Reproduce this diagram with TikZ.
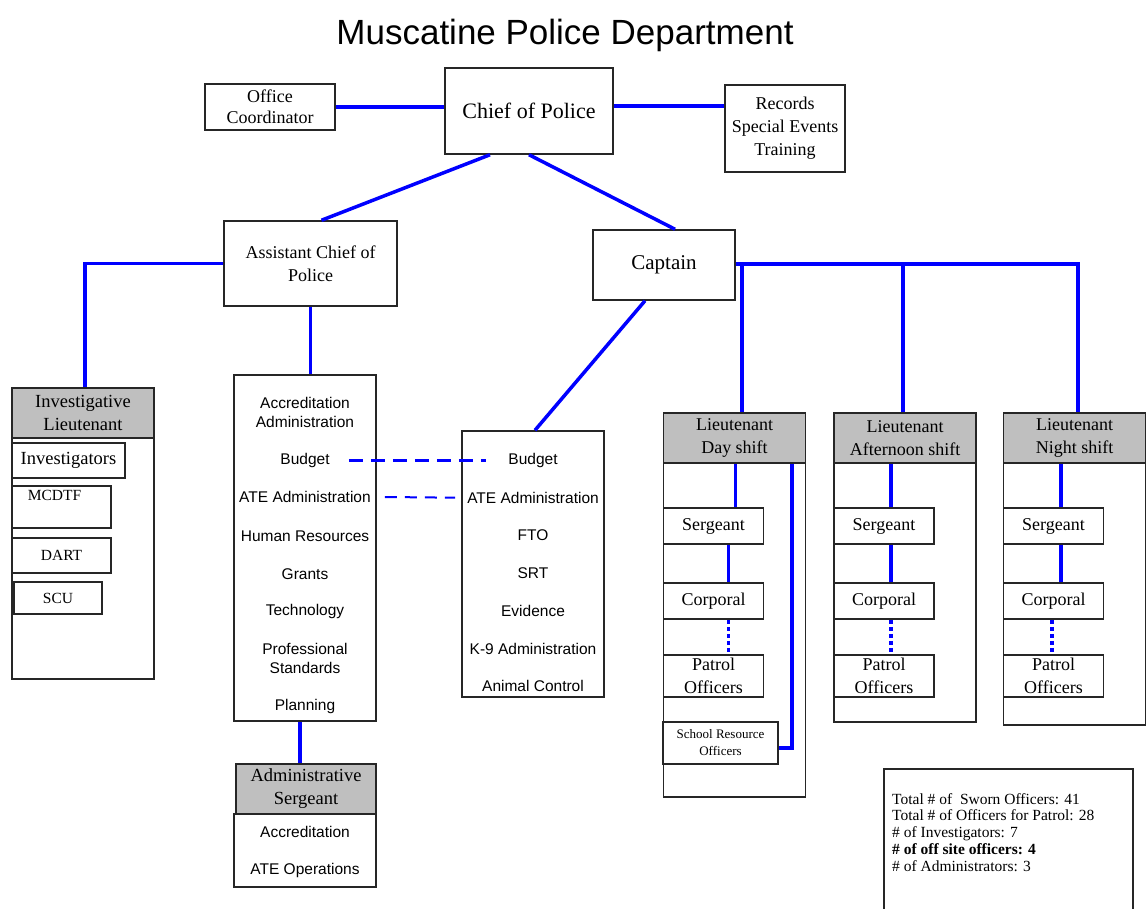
\documentclass[tikz,border=0pt]{standalone}
\usepackage{fontspec}
\setmainfont{Liberation Serif}
\setsansfont{Liberation Sans}
\usetikzlibrary{calc}

\begin{document}
\begin{tikzpicture}[x=1pt,y=-1pt,
		box/.style={draw=black!85, line width=1.5pt, fill=white, inner sep=0pt, align=center,
			font=\fontsize{18}{23}\selectfont},
		head/.style={box, fill=black!25},
		item/.style={font=\sffamily\fontsize{15.5}{19}\selectfont, align=center, inner sep=0pt},
		link/.style={draw=blue, line width=3.5pt},
		dots/.style={link, dash pattern=on 4pt off 3pt},
	]
	\useasboundingbox (0,0) rectangle (1146,909);
	\clip (0,0) rectangle (1146,909);
	\node[font=\sffamily\fontsize{35}{40}\selectfont, anchor=base] (title) at (565,45) {Muscatine Police Department};
	% top of the chart
	\node[box, minimum width=168, minimum height=86, font=\fontsize{22}{26}\selectfont] (chief) at (529,111) {Chief of Police};
	\node[box, minimum width=130, minimum height=46, font=\fontsize{18}{21}\selectfont] (office) at (270,107) {Office\\Coordinator};
	\node[box, minimum width=120, minimum height=87] (records) at (785,128.5) {Records\\Special Events\\Training};
	\node[box, minimum width=173, minimum height=85] (assist) at (310.5,263.5) {Assistant Chief of\\Police};
	\node[box, minimum width=142, minimum height=70, font=\fontsize{21}{25}\selectfont] (captain) at (664,265) {Captain};
	% investigations
	\node[box, minimum width=142, minimum height=241] (invbody) at (83,558.5) {};
	\node[head, minimum width=142, minimum height=50, font=\fontsize{18.5}{23}\selectfont] (invhead) at (83,413) {Investigative\\Lieutenant};
	\node[box, minimum width=113, minimum height=35, font=\fontsize{18.5}{22}\selectfont] (invest) at (68.5,460.5) {Investigators};
	\node[box, minimum width=99, minimum height=42,
		label={[anchor=north, xshift=-7pt, inner sep=5pt, font=\fontsize{15.5}{18}\selectfont]north:MCDTF}] (mcdtf) at (61.5,507) {};
	\node[box, minimum width=99, minimum height=35, font=\fontsize{15.5}{18}\selectfont] (dart) at (61.5,555.5) {DART};
	\node[box, minimum width=88, minimum height=32, font=\fontsize{15.5}{18}\selectfont] (scu) at (58,598) {SCU};
	% administration
	\node[box, minimum width=142, minimum height=346] (admlist) at (305,548) {};
	\foreach \y/\t [count=\i] in {412.5/{Accreditation\\Administration}, 460/Budget, 497/ATE Administration,
		536/Human Resources, 574/Grants, 611/Technology, 658.5/{Professional\\Standards}, 706/Planning}
		\node[item] (adm\i) at (305,\y) {\t};
	\node[box, minimum width=142, minimum height=73] (admbody) at (305,850.5) {};
	\node[head, minimum width=140, minimum height=50, font=\fontsize{18.5}{23}\selectfont] (admhead) at (306,789) {Administrative\\Sergeant};
	\node[item] (admacc) at (305,832) {Accreditation};
	\node[item] (admate) at (305,870) {ATE Operations};
	% captain's duties
	\node[box, minimum width=142, minimum height=266] (caplist) at (533,564) {};
	\foreach \t [count=\i] in {Budget, ATE Administration, FTO, SRT, Evidence, K-9 Administration, Animal Control}
		\node[item] (cap\i) at (533,{422.3+37.7*\i}) {\t};
	% shifts
	\foreach \n/\x/\h/\sh in {day/734.5/334/Day shift, aft/905/259/Afternoon shift, ngt/1074.5/262/Night shift}
	{
		\node[box, minimum width=142, minimum height=\h] (\n-body) at (\x,{463+\h/2}) {};
		\node[head, minimum width=142, minimum height=50] (\n-head) at (\x,438) {Lieutenant\\\sh};
		\node[box, minimum width=100, minimum height=36] (\n-sgt) at ({\x-21},526) {Sergeant};
		\node[box, minimum width=100, minimum height=36] (\n-corp) at ({\x-21},601) {Corporal};
		\node[box, minimum width=100, minimum height=42] (\n-pat) at ({\x-21},676) {Patrol\\Officers};
	}
	\node[box, minimum width=115, minimum height=42, font=\fontsize{13}{17}\selectfont] (school) at (720.5,743) {School Resource\\Officers};
	% totals
	\node[box, minimum width=249, minimum height=150, anchor=north west] (totals) at (883,768) {};
	\node[anchor=north west, align=left, inner sep=0pt, font=\fontsize{15.5}{16.8}\selectfont] (totaltext) at (892,793)
		{Total \# of~ Sworn Officers: 41\\Total \# of Officers for Patrol: 28\\\# of Investigators: 7\\
		\textbf{\# of off site officers: 4}\\\# of Administrators: 3};
	% lines
	\draw[link] (office.east) -- (office.east -| chief.west);
	\draw[link] ([yshift=5pt]chief.east) -- ([yshift=5pt]chief.east -| records.west);
	\draw[link] ([xshift=-39pt]chief.south) -- ([xshift=11pt]assist.north);
	\draw[link] (chief.south) -- ([xshift=11pt]captain.north);
	\draw[link] (assist.west) -| ([xshift=2pt]invhead.north);
	\draw[link] (assist.south) -- (assist.south |- admlist.north);
	\draw[link] ([xshift=-5pt]admlist.south) -- ([xshift=-5pt]admlist.south |- admhead.north);
	\draw[link] ([xshift=-19pt]captain.south) -- ([xshift=2pt]caplist.north);
	\draw[link] ([yshift=1pt]captain.east) -| ([xshift=3.5pt]ngt-head.north);
	\draw[link] ([xshift=7.5pt]day-head.north) -- ([xshift=7.5pt]day-head.north |- captain.east);
	\draw[link] ([xshift=-2pt]aft-head.north) -- ([xshift=-2pt]aft-head.north |- captain.east);
	\draw[link, line width=3pt, dash pattern=on 14pt off 8pt] ([xshift=19pt]adm2.east) -- ([xshift=-22pt]cap1.west);
	\draw[link, line width=2pt, dash pattern=on 12pt off 8pt] ([xshift=14pt]adm3.east) -- ([xshift=-12pt]cap2.west);
	\foreach \n/\a/\b/\c in {day/22/15/15, aft/7/7/7, ngt/7.5/7.5/-1.5}
	{
		\draw[link] ([xshift=\a]\n-sgt.north) -- ([xshift=\a]\n-sgt.north |- \n-head.south);
		\draw[link] ([xshift=\b]\n-sgt.south) -- ([xshift=\b]\n-corp.north);
		\draw[dots] ([xshift=\c]\n-corp.south) -- ([xshift=\c]\n-pat.north);
	}
	\draw[link] ([xshift=57.5pt]day-head.south) |- ([yshift=-5pt]school.east);
\end{tikzpicture}
\end{document}
